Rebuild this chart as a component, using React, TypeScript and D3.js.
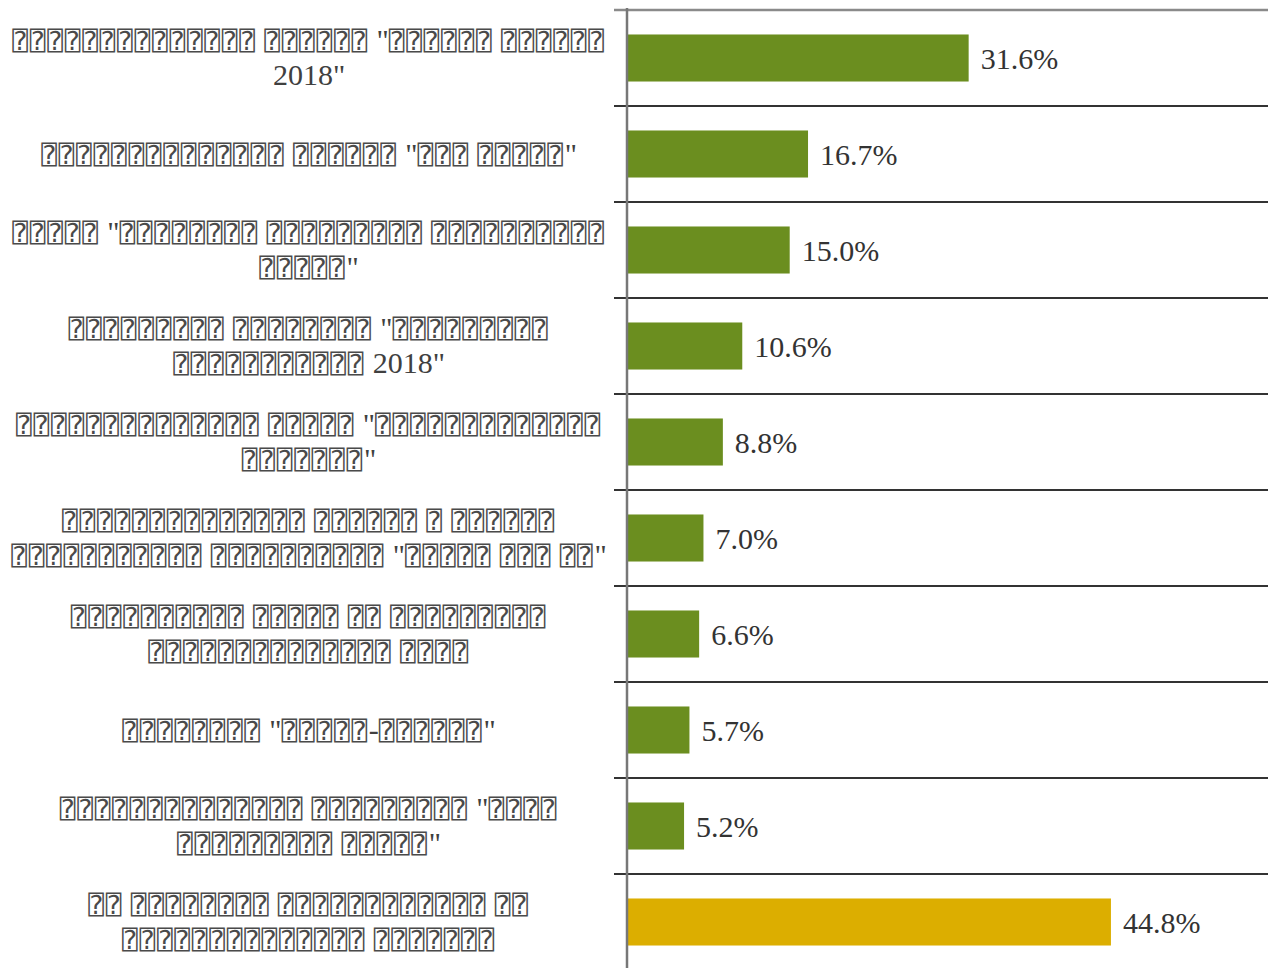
import React from "react";
import * as d3 from "d3";

// The reference shows its category labels only as missing-glyph boxes (⍰); the box counts are kept as seen.
const categories: string[] = [
  "⍰⍰⍰⍰⍰⍰⍰⍰⍰⍰⍰⍰⍰⍰ ⍰⍰⍰⍰⍰⍰ \"⍰⍰⍰⍰⍰⍰ ⍰⍰⍰⍰⍰⍰\n2018\"",
  "⍰⍰⍰⍰⍰⍰⍰⍰⍰⍰⍰⍰⍰⍰ ⍰⍰⍰⍰⍰⍰ \"⍰⍰⍰ ⍰⍰⍰⍰⍰\"",
  "⍰⍰⍰⍰⍰ \"⍰⍰⍰⍰⍰⍰⍰⍰ ⍰⍰⍰⍰⍰⍰⍰⍰⍰ ⍰⍰⍰⍰⍰⍰⍰⍰⍰⍰\n⍰⍰⍰⍰⍰\"",
  "⍰⍰⍰⍰⍰⍰⍰⍰⍰ ⍰⍰⍰⍰⍰⍰⍰⍰ \"⍰⍰⍰⍰⍰⍰⍰⍰⍰\n⍰⍰⍰⍰⍰⍰⍰⍰⍰⍰⍰ 2018\"",
  "⍰⍰⍰⍰⍰⍰⍰⍰⍰⍰⍰⍰⍰⍰ ⍰⍰⍰⍰⍰ \"⍰⍰⍰⍰⍰⍰⍰⍰⍰⍰⍰⍰⍰\n⍰⍰⍰⍰⍰⍰⍰\"",
  "⍰⍰⍰⍰⍰⍰⍰⍰⍰⍰⍰⍰⍰⍰ ⍰⍰⍰⍰⍰⍰ ⍰ ⍰⍰⍰⍰⍰⍰\n⍰⍰⍰⍰⍰⍰⍰⍰⍰⍰⍰ ⍰⍰⍰⍰⍰⍰⍰⍰⍰⍰ \"⍰⍰⍰⍰⍰ ⍰⍰⍰ ⍰⍰\"",
  "⍰⍰⍰⍰⍰⍰⍰⍰⍰⍰ ⍰⍰⍰⍰⍰ ⍰⍰ ⍰⍰⍰⍰⍰⍰⍰⍰⍰\n⍰⍰⍰⍰⍰⍰⍰⍰⍰⍰⍰⍰⍰⍰ ⍰⍰⍰⍰",
  "⍰⍰⍰⍰⍰⍰⍰⍰ \"⍰⍰⍰⍰⍰-⍰⍰⍰⍰⍰⍰\"",
  "⍰⍰⍰⍰⍰⍰⍰⍰⍰⍰⍰⍰⍰⍰ ⍰⍰⍰⍰⍰⍰⍰⍰⍰ \"⍰⍰⍰⍰\n⍰⍰⍰⍰⍰⍰⍰⍰⍰ ⍰⍰⍰⍰⍰\"",
  "⍰⍰ ⍰⍰⍰⍰⍰⍰⍰⍰ ⍰⍰⍰⍰⍰⍰⍰⍰⍰⍰⍰⍰ ⍰⍰\n⍰⍰⍰⍰⍰⍰⍰⍰⍰⍰⍰⍰⍰⍰ ⍰⍰⍰⍰⍰⍰⍰",
];
const values: number[] = [31.6, 16.7, 15.0, 10.6, 8.8, 7.0, 6.6, 5.7, 5.2, 44.8];
const highlighted: boolean[] = [false, false, false, false, false, false, false, false, false, true];

const W = 1268;
const H = 968;
const axisX = 627;
const SERIF = "'Liberation Serif', 'DejaVu Serif', serif";
const BOXFONT = "'DejaVu Sans Mono', monospace";

export default function App() {
  const idx = categories.map((_, i) => i);
  const y = d3.scaleBand<number>().domain(idx).range([10, 970]).padding(0);
  const x = d3.scaleLinear().domain([0, 50]).range([axisX + 1, axisX + 1 + 539]);
  const barH = y.bandwidth() * 0.49;
  const labelCx = 309;
  const lineH = 35;

  return (
    <svg width={W} height={H} style={{ position: "absolute", left: 0, top: 0, background: "#fff" }}>
      <line x1={614} x2={W} y1={10} y2={10} stroke="#8a8a8a" strokeWidth={2.5} />
      {idx.slice(1).map((i) => (
        <line key={i} x1={614} x2={W} y1={y(i)!} y2={y(i)!} stroke="#333" strokeWidth={2} />
      ))}
      {values.map((v, i) => {
        const cy = y(i)! + y.bandwidth() / 2;
        return (
          <g key={i}>
            <rect
              x={x(0)}
              y={cy - barH / 2}
              width={x(v) - x(0)}
              height={barH}
              fill={highlighted[i] ? "#dcae00" : "#6b8e1f"}
            />
            <text x={x(v) + 12} y={cy} dy="0.35em" fontFamily={SERIF} fontSize={30} fill="#333">
              {d3.format(".1f")(v) + "%"}
            </text>
          </g>
        );
      })}
      <line x1={axisX} x2={axisX} y1={8} y2={H} stroke="#777" strokeWidth={2.5} />
      {categories.map((c, i) => {
        const lines = c.split("\n");
        const cy = y(i)! + y.bandwidth() / 2;
        const startY = cy - ((lines.length - 1) * lineH) / 2 + 4;
        return (
          <text key={i} textAnchor="middle" fill="#404040">
            {lines.map((l, j) => {
              const runs = l.split(/(⍰+)/).filter((r) => r.length > 0);
              return (
                <tspan key={j} x={labelCx} y={startY + j * lineH} dy="0.35em">
                  {runs.map((r, k) =>
                    r[0] === "⍰" ? (
                      <tspan key={k} fontFamily={BOXFONT} fontSize={26} letterSpacing={1.8} fill="#4a4a4a">
                        {r}
                      </tspan>
                    ) : (
                      <tspan key={k} fontFamily={SERIF} fontSize={30}>
                        {r}
                      </tspan>
                    )
                  )}
                </tspan>
              );
            })}
          </text>
        );
      })}
    </svg>
  );
}
